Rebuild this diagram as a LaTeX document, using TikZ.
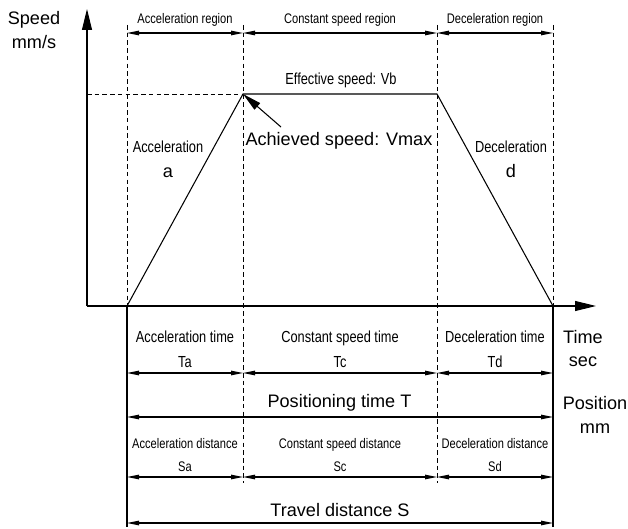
\documentclass[tikz,border=0pt]{standalone}
\usepackage{fontspec}
\setmainfont{Liberation Sans}
\newfontfamily\narrowfont[FakeStretch=0.8]{Liberation Sans}
\usetikzlibrary{arrows.meta}

\tikzset{
    dim/.style={{Triangle[length=0.24cm,width=0.09cm]}-{Triangle[length=0.24cm,width=0.09cm]}},
    axis/.style={-{Triangle[length=0.42cm,width=0.2cm]}},
    guide/.style={line width=0.5pt, dash pattern=on 2.6pt off 1.8pt},
    small/.style={font=\narrowfont\fontsize{7.9}{13.6}\selectfont, inner sep=0pt, align=center},
    mid/.style={font=\narrowfont\fontsize{9.1}{14.2}\selectfont, inner sep=0pt, align=center},
    big/.style={font=\fontsize{10.3}{13.4}\selectfont, inner sep=0pt, align=center}
}

\begin{document}
\begin{tikzpicture}[line width=0.6pt]
    \useasboundingbox (0,0) rectangle (12.56,10.56);

    % --- CORNERS OF THE PROFILE ---
    \coordinate (o)  at (1.74,4.44);
    \coordinate (t0) at (2.54,4.44);
    \coordinate (t1) at (4.86,8.68);
    \coordinate (t2) at (8.74,8.68);
    \coordinate (t3) at (11.06,4.44);
    \coordinate (vb) at (1.74,8.68);
    \coordinate (ytip) at (1.74,10.38);
    \coordinate (xtip) at (11.92,4.44);

    % levels of the dimension rows
    \coordinate (top) at (0,10.06);
    \coordinate (reg) at (0,9.9);
    \coordinate (tim) at (0,3.1);
    \coordinate (pos) at (0,2.22);
    \coordinate (dis) at (0,1.02);
    \coordinate (trv) at (0,0.1);
    \coordinate (gnd) at (0,0.9);
    \coordinate (bot) at (0,0.02);

    % --- AXES AND GUIDES ---
    \draw[axis] (o) -- (ytip);
    \draw[axis] (o) -- (xtip);
    \draw[guide] (t0 |- top) -- (t0);
    \draw[guide] (t1 |- top) -- (t1 |- gnd);
    \draw[guide] (t2 |- top) -- (t2 |- gnd);
    \draw[guide] (t3 |- top) -- (t3);
    \draw[guide] (vb) -- (t1);
    \draw (t0) -- (t0 |- bot);
    \draw (t3) -- (t3 |- bot);

    % speed profile
    \draw (t0) -- (t1) -- (t2) -- (t3);

    % --- DIMENSION ARROWS ---
    \foreach \row in {reg,tim,dis} {
        \draw[dim] (t0 |- \row) -- (t1 |- \row);
        \draw[dim] (t1 |- \row) -- (t2 |- \row);
        \draw[dim] (t2 |- \row) -- (t3 |- \row);
    }
    \draw[dim] (t0 |- pos) -- (t3 |- pos);
    \draw[dim] (t0 |- trv) -- (t3 |- trv);

    % --- LABELS ---
    \node[big] (speed) at (0.68,9.96) {Speed\\mm/s};
    \node[big] (time) at (11.66,3.59) {Time\\sec};
    \node[big] (posn) at (11.9,2.26) {Position\\mm};

    \node[small] (areg) at (3.70,10.16) {Acceleration region};
    \node[small] (creg) at (6.80,10.16) {Constant speed region};
    \node[small] (dreg) at (9.90,10.16) {Deceleration region};

    \node[mid] (eff) at (6.82,8.96) {Effective speed: Vb};
    \node[big, anchor=west] (vmax) at (4.9,7.74) {Achieved speed: Vmax};
    \coordinate (vtail) at (5.62,8.02);
    \draw[-{Triangle[length=0.38cm,width=0.17cm]}] (vtail) -- (t1);

    \node[mid] (acc) at (3.36,7.38) {Acceleration\\{\fontsize{10.3}{13}\selectfont\rmfamily a}};
    \node[mid] (dec) at (10.22,7.38) {Deceleration\\{\fontsize{10.3}{13}\selectfont\rmfamily d}};

    \node[mid] (ta) at (3.70,3.57) {Acceleration time\\Ta};
    \node[mid] (tc) at (6.80,3.57) {Constant speed time\\Tc};
    \node[mid] (td) at (9.90,3.57) {Deceleration time\\Td};
    \node[big] (tt) at (6.79,2.5) {Positioning time T};

    \node[small] (sa) at (3.70,1.46) {Acceleration distance\\Sa};
    \node[small] (sc) at (6.80,1.46) {Constant speed distance\\Sc};
    \node[small] (sd) at (9.90,1.46) {Deceleration distance\\Sd};
    \node[big] (ss) at (6.8,0.36) {Travel distance S};
\end{tikzpicture}
\end{document}
